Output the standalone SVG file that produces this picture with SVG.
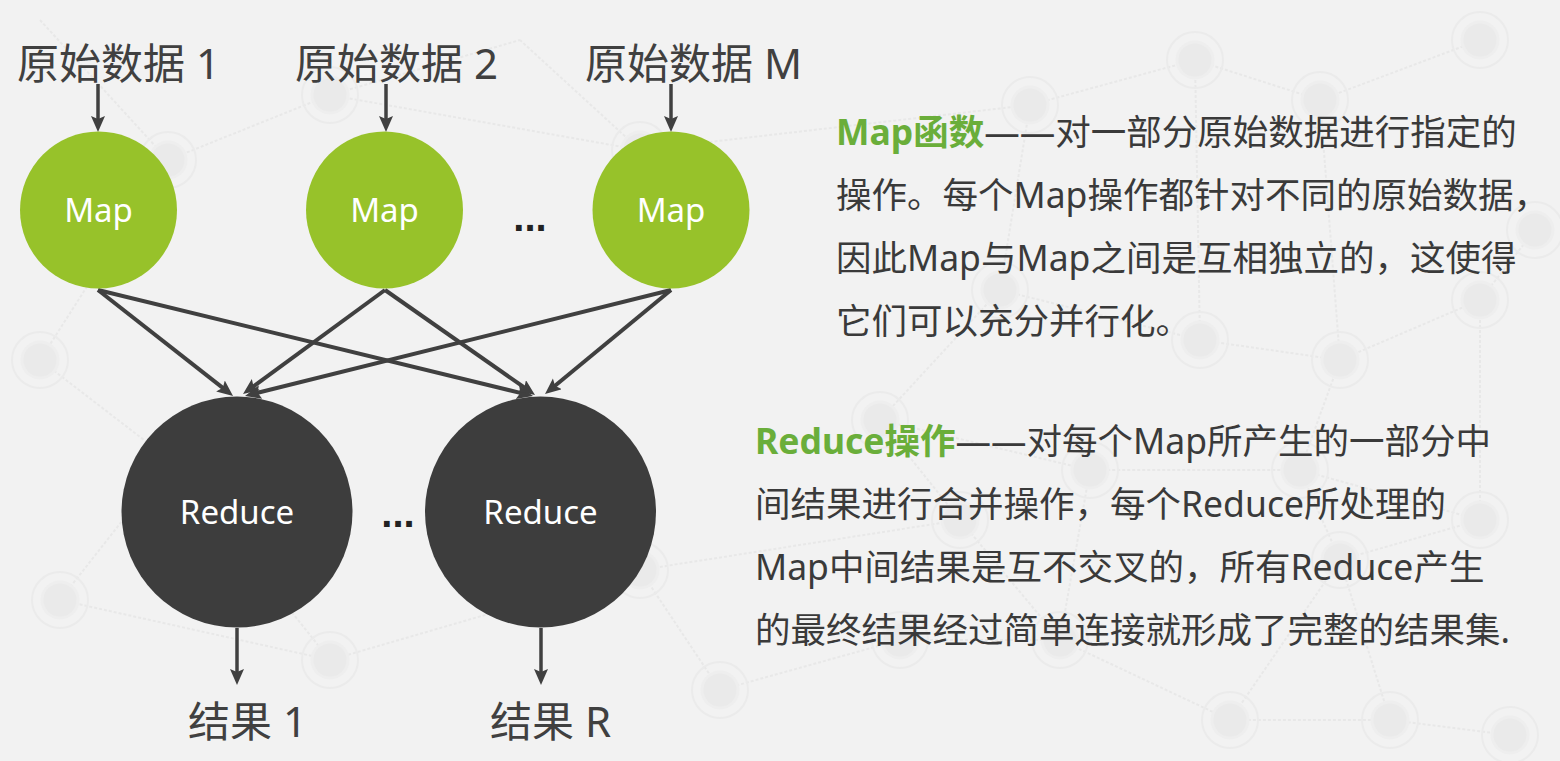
<svg xmlns="http://www.w3.org/2000/svg" width="1560" height="761" viewBox="0 0 1560 761">
<defs>
<style>
.bgl{stroke:#e8e8e8;stroke-width:2;stroke-dasharray:3 2;fill:none}
.bgc{fill:#eaeaea;stroke:#eeeeee;stroke-width:3}
.bgr{fill:none;stroke:#ebebeb;stroke-width:2}
.lbl{font-family:"Noto Sans","Noto Sans CJK SC",sans-serif;font-size:42px;fill:#404040}
.map{fill:#97C22A}
.red{fill:#3D3D3D}
.ntx{font-family:"Noto Sans","Open Sans",sans-serif;font-size:33px;fill:#ffffff;text-anchor:middle}
.dots{font-family:"Liberation Sans",sans-serif;font-size:40px;fill:#222222;text-anchor:middle;font-weight:bold}
.con{stroke:#404040;stroke-width:4;fill:none;marker-end:url(#ah)}
.con3{stroke:#404040;stroke-width:3.5;fill:none;marker-end:url(#ah)}
.para{font-family:"Noto Sans","Noto Sans CJK SC",sans-serif;font-size:35.5px;fill:#3a3a3a}
.hl{fill:#6AAE3A;font-weight:bold}
</style>
<marker id="ah" markerUnits="userSpaceOnUse" markerWidth="18" markerHeight="16" refX="5" refY="7" orient="auto">
<path d="M0,0 L16,7 L0,14 L3,7 z" fill="#404040"/>
</marker>
</defs>
<rect width="1560" height="761" fill="#f2f2f2"/>
<g id="background">
<path class="bgl" d="M40,20 L168,160 L330,95 L520,40 M168,160 L40,360 L170,460 L60,600 M330,95 L640,150 L520,40 M640,150 L1030,105 L1195,60 L1320,100 L1480,40 M1030,105 L1000,290 L1200,340 L1340,360 L1480,300 L1535,230 M1320,100 L1340,360 M1195,60 L1200,340 M1000,290 L880,420 L1090,470 L1300,470 L1480,520 M1340,360 L1300,470 M1480,300 L1480,520 M880,420 L960,520 L1060,640 L1230,720 L1390,720 L1510,735 M1340,560 L1390,720 M1300,470 L1340,560 L1480,520 M170,460 L330,660 L640,570 L720,690 L900,640 L1060,640 M640,570 L960,520 M60,600 L330,660 M1090,470 L1060,640 M1340,560 L1230,720"/>
<g>
<circle class="bgr" cx="168" cy="160" r="28"/><circle class="bgc" cx="168" cy="160" r="18"/>
<circle class="bgr" cx="330" cy="95" r="28"/><circle class="bgc" cx="330" cy="95" r="18"/>
<circle class="bgr" cx="640" cy="150" r="28"/><circle class="bgc" cx="640" cy="150" r="18"/>
<circle class="bgr" cx="1030" cy="105" r="28"/><circle class="bgc" cx="1030" cy="105" r="18"/>
<circle class="bgr" cx="1195" cy="60" r="28"/><circle class="bgc" cx="1195" cy="60" r="18"/>
<circle class="bgr" cx="1320" cy="100" r="28"/><circle class="bgc" cx="1320" cy="100" r="18"/>
<circle class="bgr" cx="1480" cy="40" r="28"/><circle class="bgc" cx="1480" cy="40" r="18"/>
<circle class="bgr" cx="1000" cy="290" r="28"/><circle class="bgc" cx="1000" cy="290" r="18"/>
<circle class="bgr" cx="1200" cy="340" r="28"/><circle class="bgc" cx="1200" cy="340" r="18"/>
<circle class="bgr" cx="1340" cy="360" r="28"/><circle class="bgc" cx="1340" cy="360" r="18"/>
<circle class="bgr" cx="1480" cy="300" r="28"/><circle class="bgc" cx="1480" cy="300" r="18"/>
<circle class="bgr" cx="1535" cy="230" r="28"/><circle class="bgc" cx="1535" cy="230" r="18"/>
<circle class="bgr" cx="880" cy="420" r="28"/><circle class="bgc" cx="880" cy="420" r="18"/>
<circle class="bgr" cx="1090" cy="470" r="28"/><circle class="bgc" cx="1090" cy="470" r="18"/>
<circle class="bgr" cx="1300" cy="470" r="28"/><circle class="bgc" cx="1300" cy="470" r="18"/>
<circle class="bgr" cx="1480" cy="520" r="28"/><circle class="bgc" cx="1480" cy="520" r="18"/>
<circle class="bgr" cx="40" cy="360" r="28"/><circle class="bgc" cx="40" cy="360" r="18"/>
<circle class="bgr" cx="60" cy="600" r="28"/><circle class="bgc" cx="60" cy="600" r="18"/>
<circle class="bgr" cx="330" cy="660" r="28"/><circle class="bgc" cx="330" cy="660" r="18"/>
<circle class="bgr" cx="640" cy="570" r="28"/><circle class="bgc" cx="640" cy="570" r="18"/>
<circle class="bgr" cx="720" cy="690" r="28"/><circle class="bgc" cx="720" cy="690" r="18"/>
<circle class="bgr" cx="900" cy="640" r="28"/><circle class="bgc" cx="900" cy="640" r="18"/>
<circle class="bgr" cx="1060" cy="640" r="28"/><circle class="bgc" cx="1060" cy="640" r="18"/>
<circle class="bgr" cx="1230" cy="720" r="28"/><circle class="bgc" cx="1230" cy="720" r="18"/>
<circle class="bgr" cx="1390" cy="720" r="28"/><circle class="bgc" cx="1390" cy="720" r="18"/>
<circle class="bgr" cx="1510" cy="735" r="28"/><circle class="bgc" cx="1510" cy="735" r="18"/>
<circle class="bgr" cx="1340" cy="560" r="28"/><circle class="bgc" cx="1340" cy="560" r="18"/>
<circle class="bgr" cx="960" cy="520" r="28"/><circle class="bgc" cx="960" cy="520" r="18"/>
</g>
</g>
<g id="connectors">
<line class="con3" x1="98" y1="84" x2="98" y2="121"/>
<line class="con3" x1="386" y1="84" x2="386" y2="121"/>
<line class="con3" x1="671" y1="84" x2="671" y2="121"/>
<line class="con" x1="98" y1="290" x2="224.4" y2="389.1"/>
<line class="con" x1="98" y1="290" x2="522.3" y2="393.4"/>
<line class="con" x1="385" y1="290" x2="251.9" y2="387.5"/>
<line class="con" x1="385" y1="290" x2="526" y2="388.7"/>
<line class="con" x1="671" y1="290" x2="255.7" y2="393.3"/>
<line class="con" x1="671" y1="290" x2="553.5" y2="387"/>
<line class="con3" x1="237" y1="628" x2="237" y2="674"/>
<line class="con3" x1="541" y1="628" x2="541" y2="674"/>
</g>
<g id="label-src1"><text class="lbl" x="17" y="79">原始数据 1</text></g>
<g id="label-src2"><text class="lbl" x="295" y="79">原始数据 2</text></g>
<g id="label-srcM"><text class="lbl" x="585" y="79">原始数据 M</text></g>
<g id="map1"><circle class="map" cx="98.5" cy="210" r="78.5"/><text class="ntx" x="98.5" y="222">Map</text></g>
<g id="map2"><circle class="map" cx="384.5" cy="210" r="78.5"/><text class="ntx" x="384.5" y="222">Map</text></g>
<g id="map-dots"><text class="dots" x="530" y="231">...</text></g>
<g id="map3"><circle class="map" cx="671" cy="210" r="78.5"/><text class="ntx" x="671" y="222">Map</text></g>
<g id="reduce1"><circle class="red" cx="237" cy="512" r="115.5"/><text class="ntx" x="237" y="524">Reduce</text></g>
<g id="reduce-dots"><text class="dots" x="398" y="527">...</text></g>
<g id="reduce2"><circle class="red" cx="540.5" cy="512" r="115.5"/><text class="ntx" x="540.5" y="524">Reduce</text></g>
<g id="result1"><text class="lbl" x="188" y="737">结果 1</text></g>
<g id="resultR"><text class="lbl" x="490" y="737">结果 R</text></g>
<g id="map-desc">
<text class="para" x="836" y="145"><tspan class="hl">Map函数</tspan>——对一部分原始数据进行指定的</text>
<text class="para" x="836" y="208">操作。每个Map操作都针对不同的原始数据，</text>
<text class="para" x="836" y="271">因此Map与Map之间是互相独立的，这使得</text>
<text class="para" x="836" y="334">它们可以充分并行化。</text>
</g>
<g id="reduce-desc">
<text class="para" x="755" y="454"><tspan class="hl">Reduce操作</tspan>——对每个Map所产生的一部分中</text>
<text class="para" x="755" y="517">间结果进行合并操作，每个Reduce所处理的</text>
<text class="para" x="755" y="580">Map中间结果是互不交叉的，所有Reduce产生</text>
<text class="para" x="755" y="643">的最终结果经过简单连接就形成了完整的结果集.</text>
</g>
</svg>
